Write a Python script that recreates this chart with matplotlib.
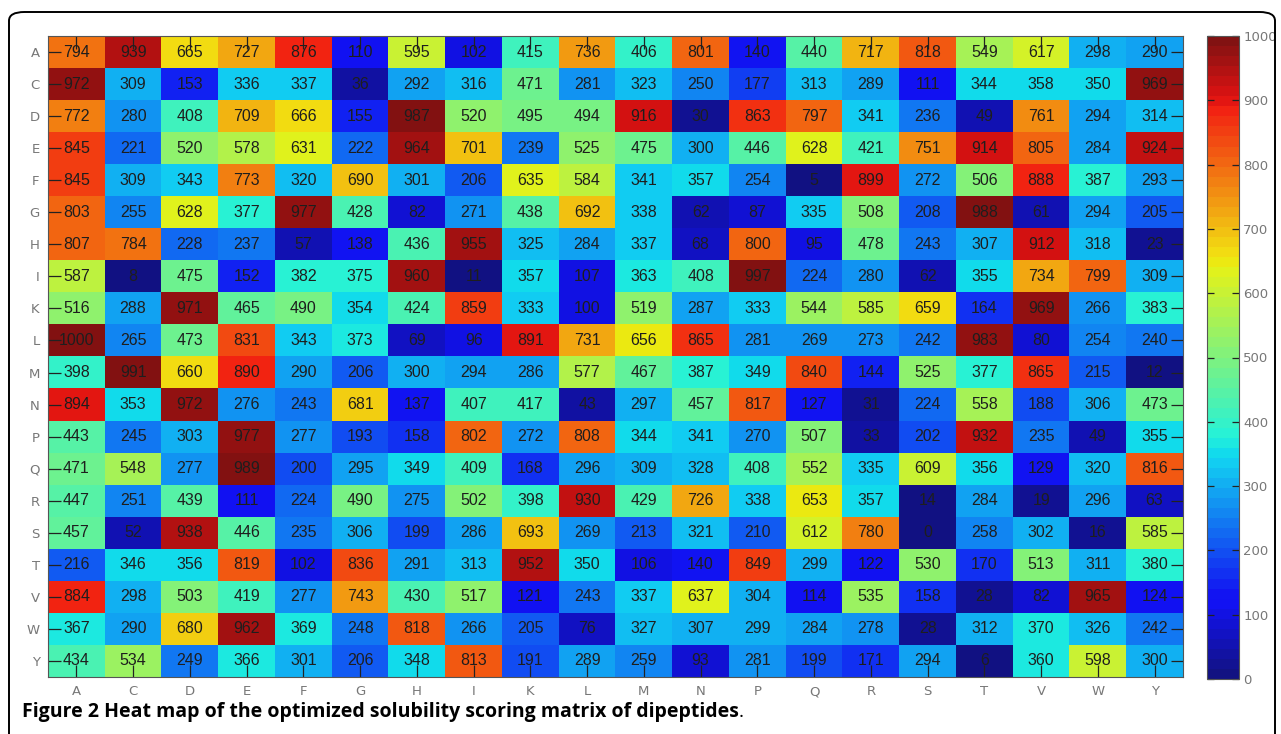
import numpy as np
import matplotlib
matplotlib.use("Agg")
import matplotlib.pyplot as plt
from matplotlib.patches import FancyBboxPatch
from matplotlib.colors import ListedColormap

AMINO = ["A", "C", "D", "E", "F", "G", "H", "I", "K", "L",
         "M", "N", "P", "Q", "R", "S", "T", "V", "W", "Y"]

row_A = [794, 939, 665, 727, 876, 110, 595, 102, 415, 736, 406, 801, 140, 440, 717, 818, 549, 617, 298, 290]
row_C = [972, 309, 153, 336, 337, 36, 292, 316, 471, 281, 323, 250, 177, 313, 289, 111, 344, 358, 350, 969]
row_D = [772, 280, 408, 709, 666, 155, 987, 520, 495, 494, 916, 30, 863, 797, 341, 236, 49, 761, 294, 314]
row_E = [845, 221, 520, 578, 631, 222, 964, 701, 239, 525, 475, 300, 446, 628, 421, 751, 914, 805, 284, 924]
row_F = [845, 309, 343, 773, 320, 690, 301, 206, 635, 584, 341, 357, 254, 5, 899, 272, 506, 888, 387, 293]
row_G = [803, 255, 628, 377, 977, 428, 82, 271, 438, 692, 338, 62, 87, 335, 508, 208, 988, 61, 294, 205]
row_H = [807, 784, 228, 237, 57, 138, 436, 955, 325, 284, 337, 68, 800, 95, 478, 243, 307, 912, 318, 23]
row_I = [587, 8, 475, 152, 382, 375, 960, 11, 357, 107, 363, 408, 997, 224, 280, 62, 355, 734, 799, 309]
row_K = [516, 288, 971, 465, 490, 354, 424, 859, 333, 100, 519, 287, 333, 544, 585, 659, 164, 969, 266, 383]
row_L = [1000, 265, 473, 831, 343, 373, 69, 96, 891, 731, 656, 865, 281, 269, 273, 242, 983, 80, 254, 240]
row_M = [398, 991, 660, 890, 290, 206, 300, 294, 286, 577, 467, 387, 349, 840, 144, 525, 377, 865, 215, 12]
row_N = [894, 353, 972, 276, 243, 681, 137, 407, 417, 43, 297, 457, 817, 127, 31, 224, 558, 188, 306, 473]
row_P = [443, 245, 303, 977, 277, 193, 158, 802, 272, 808, 344, 341, 270, 507, 33, 202, 932, 235, 49, 355]
row_Q = [471, 548, 277, 989, 200, 295, 349, 409, 168, 296, 309, 328, 408, 552, 335, 609, 356, 129, 320, 816]
row_R = [447, 251, 439, 111, 224, 490, 275, 502, 398, 930, 429, 726, 338, 653, 357, 14, 284, 19, 296, 63]
row_S = [457, 52, 938, 446, 235, 306, 199, 286, 693, 269, 213, 321, 210, 612, 780, 0, 258, 302, 16, 585]
row_T = [216, 346, 356, 819, 102, 836, 291, 313, 952, 350, 106, 140, 849, 299, 122, 530, 170, 513, 311, 380]
row_V = [884, 298, 503, 419, 277, 743, 430, 517, 121, 243, 337, 637, 304, 114, 535, 158, 28, 82, 965, 124]
row_W = [367, 290, 680, 962, 369, 248, 818, 266, 205, 76, 327, 307, 299, 284, 278, 28, 312, 370, 326, 242]
row_Y = [434, 534, 249, 366, 301, 206, 348, 813, 191, 289, 259, 93, 281, 199, 171, 294, 6, 360, 598, 300]

scores = np.array([row_A, row_C, row_D, row_E, row_F, row_G, row_H, row_I, row_K, row_L,
                   row_M, row_N, row_P, row_Q, row_R, row_S, row_T, row_V, row_W, row_Y])

CAPTION_BOLD = "Figure 2 Heat map of the optimized solubility scoring matrix of dipeptides"

# 64-level jet like MATLAB, slightly softened like the printed figure
jet64 = plt.get_cmap("jet", 64)(np.linspace(0, 1, 64))
jet64[:, :3] = jet64[:, :3] * 0.88 + 0.07
soft_jet = ListedColormap(jet64)

W, H = 1281, 734
fig = plt.figure(figsize=(W / 100, H / 100), dpi=100)

# rounded frame, bottom edge runs off the page
frame = FancyBboxPatch((9 / W, -30 / H), 1266 / W, (H + 30 - 12) / H,
                       boxstyle="round,pad=0,rounding_size=0.012",
                       transform=fig.transFigure, fill=False,
                       edgecolor="black", linewidth=1.4, clip_on=False)
fig.patches.append(frame)

ax = fig.add_axes([48 / W, 1 - 677 / H, (1183 - 48) / W, (677 - 36) / H])
im = ax.imshow(scores, cmap=soft_jet, vmin=0, vmax=1000, aspect="auto",
               interpolation="nearest")

for i in range(scores.shape[0]):
    for j in range(scores.shape[1]):
        ax.text(j, i, str(scores[i, j]), ha="center", va="center",
                fontsize=11.5, color="#1e1e1e", family="Liberation Sans")

ax.set_xticks(range(len(AMINO)))
ax.set_xticklabels(AMINO)
ax.set_yticks(range(len(AMINO)))
ax.set_yticklabels(AMINO)
ax.tick_params(axis="both", direction="in", length=9, width=0.9, color="#222222",
               labelcolor="#777777", labelsize=9.5, top=True, right=True, pad=6)
for s in ax.spines.values():
    s.set_color("#555555")
    s.set_linewidth(0.8)

cax = fig.add_axes([1207 / W, 1 - 679 / H, 32 / W, (679 - 36) / H])
cb = fig.colorbar(im, cax=cax, ticks=range(0, 1001, 100))
cb.outline.set_edgecolor("#555555")
cb.outline.set_linewidth(0.8)
cax.tick_params(direction="in", length=5, width=0.9, color="#222222",
                labelcolor="#777777", labelsize=9.5, left=True, right=True, pad=3)

cap = fig.text(22 / W, 1 - 712 / H, CAPTION_BOLD, fontsize=14, fontweight="bold",
               family="Open Sans", va="center", ha="left", color="black")
fig.canvas.draw()
fig.text(cap.get_window_extent().x1 / W, 1 - 712 / H, ".", fontsize=14,
         family="Open Sans", va="center", ha="left", color="black")

fig.savefig("out.png", dpi=100)
